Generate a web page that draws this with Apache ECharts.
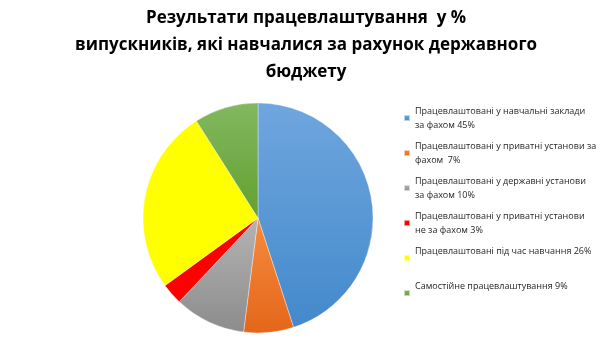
<!DOCTYPE html>
<html><head><meta charset="utf-8">
<script src="https://cdn.jsdelivr.net/npm/echarts@6/dist/echarts.min.js"></script>
<style>html,body{margin:0;padding:0;background:#fff}#c{width:600px;height:345px}</style>
</head><body><div id="c"></div>
<script>
const categories = [
  'Працевлаштовані у навчальні заклади\nза фахом 45%',
  'Працевлаштовані у приватні установи за\nфахом  7%',
  'Працевлаштовані у державні установи\nза фахом 10%',
  'Працевлаштовані у приватні установи\nне за фахом 3%',
  'Працевлаштовані під час навчання 26%\n ',
  'Самостійне працевлаштування 9%\n '
];
const values = [45, 7, 10, 3, 26, 9];
const colorTop = ['#6fa6de', '#f58b3f', '#b4b4b4', '#ff0000', '#ffff00', '#82b85f'];
const colorBottom = ['#4389cb', '#e4661a', '#8c8c8c', '#ff0000', '#ffff00', '#63a030'];
const titleText = 'Результати працевлаштування  у %\nвипускників, які навчалися за рахунок державного\nбюджету';

const chart = echarts.init(document.getElementById('c'));
chart.setOption({
  animation: false,
  title: {
    text: titleText,
    left: 306,
    textAlign: 'center',
    top: 3,
    padding: [2, 0, 2, 0],
    textStyle: { fontFamily: 'Open Sans', fontWeight: 'bold', fontSize: 17, lineHeight: 27, color: '#000' }
  },
  legend: {
    orient: 'vertical',
    left: 398,
    top: 92,
    itemWidth: 6,
    itemHeight: 6,
    itemGap: -7,
    icon: 'rect',
    textStyle: { fontFamily: 'Open Sans', fontSize: 9, lineHeight: 14, color: '#262626', padding: [14, 0, 0, 0] },
    data: categories
  },
  series: [{
    type: 'pie',
    center: [258, 218],
    radius: 115,
    startAngle: 90,
    clockwise: true,
    label: { show: false },
    labelLine: { show: false },
    emphasis: { disabled: true },
    itemStyle: { borderColor: 'rgba(255,255,255,0.6)', borderWidth: 0.6 },
    data: categories.map((n, i) => ({
      name: n,
      value: values[i],
      itemStyle: {
        color: new echarts.graphic.LinearGradient(0, 0, 0, 1, [
          { offset: 0, color: colorTop[i] },
          { offset: 1, color: colorBottom[i] }
        ])
      }
    }))
  }]
});
</script></body></html>
